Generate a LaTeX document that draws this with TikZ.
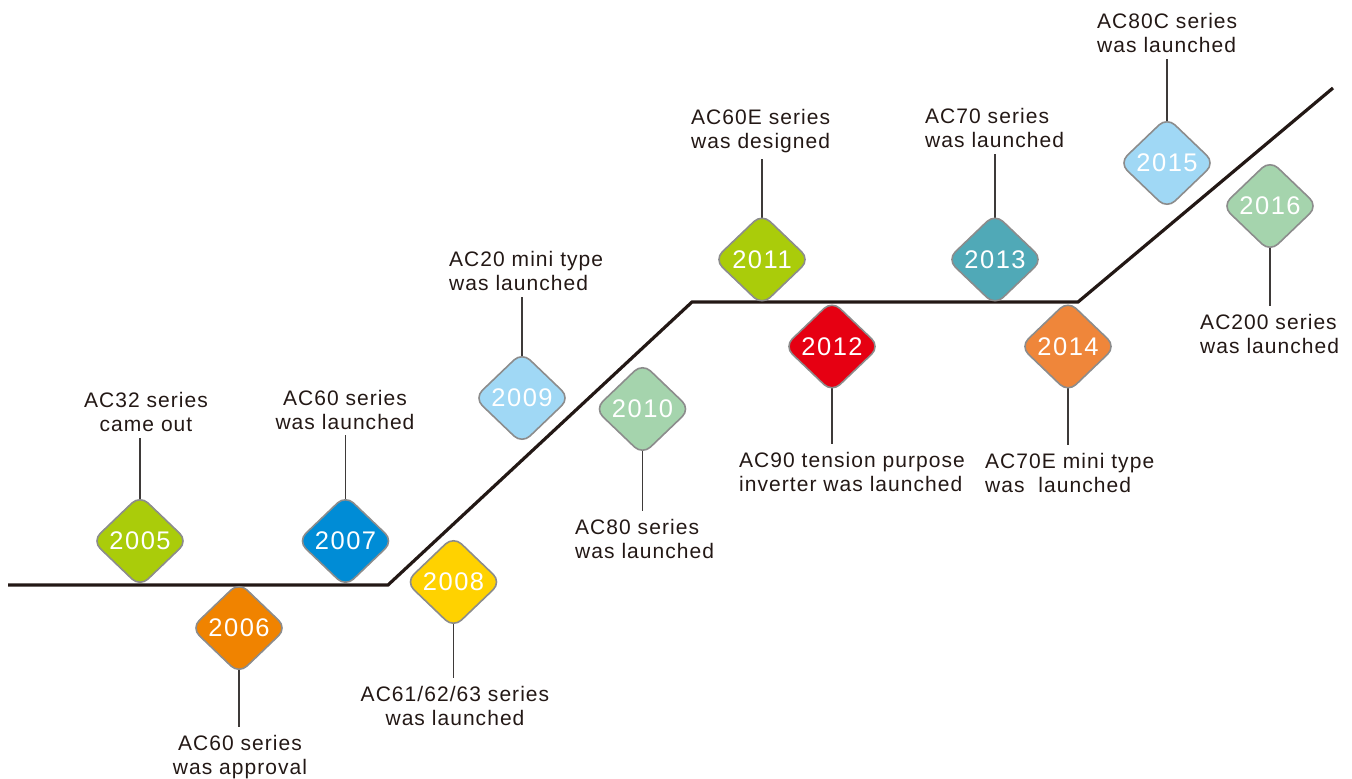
\documentclass[tikz,border=0pt]{standalone}
\usepackage{fontspec}
\setmainfont{Liberation Sans}
\newfontfamily\lblfamily[LetterSpace=5]{Liberation Sans}
\newfontfamily\yrfamily[LetterSpace=6]{Liberation Sans}
\newcommand{\lblfont}{\lblfamily\fontsize{21}{24}\selectfont}
\newcommand{\yearfont}{\yrfamily\fontsize{25.5}{28}\selectfont}
\usetikzlibrary{shapes.geometric,backgrounds,calc}
\definecolor{ink}{HTML}{231815}
\definecolor{conncol}{HTML}{3E3A39}
\definecolor{bordergray}{HTML}{8C8C8C}
\definecolor{cgreen}{HTML}{AACC0A}
\definecolor{corange}{HTML}{F08300}
\definecolor{cblue}{HTML}{008CD6}
\definecolor{cyellow}{HTML}{FFD200}
\definecolor{clblue}{HTML}{A0D8F5}
\definecolor{clgreen}{HTML}{A5D4AD}
\definecolor{cred}{HTML}{E60012}
\definecolor{cteal}{HTML}{50A9B7}
\definecolor{corange2}{HTML}{EF863A}
\begin{document}
\begin{tikzpicture}[x=1pt,y=-1pt,
  yr/.style={diamond, draw=bordergray, line width=1.6pt, rounded corners=11pt,
    minimum width=96pt, minimum height=92pt, inner sep=0pt, text=white,
    font=\yearfont, fill=#1},
  lbl/.style={font=\lblfont, text=ink, inner sep=0pt},
  conn/.style={draw=conncol, line width=1.5pt},
  mainline/.style={draw=ink, line width=3.2pt, line join=miter}]
\useasboundingbox (0,0) rectangle (1352,779);

% diamonds
\node[yr=cgreen]   (d2005) at (140,541)   {2005};
\node[yr=corange]  (d2006) at (239,628)   {2006};
\node[yr=cblue]    (d2007) at (345.5,541) {2007};
\node[yr=cyellow]  (d2008) at (453.5,582) {2008};
\node[yr=clblue]   (d2009) at (522,398)   {2009};
\node[yr=clgreen]  (d2010) at (642.5,409) {2010};
\node[yr=cgreen]   (d2011) at (762,259.5) {2011};
\node[yr=cred]     (d2012) at (832,346.5) {2012};
\node[yr=cteal]    (d2013) at (995,259.5) {2013};
\node[yr=corange2] (d2014) at (1068,346.5){2014};
\node[yr=clblue]   (d2015) at (1167,163)  {2015};
\node[yr=clgreen]  (d2016) at (1270,206)  {2016};

% labels
\node[lbl, align=center] (l2005) at (146,412) {AC32 series\\came out};
\node[lbl, align=center] (l2006) at (240,757) {AC60 series\\was approval};
\node[lbl, align=center] (l2007) at (345,409.5) {AC60 series\\was launched};
\node[lbl, align=center] (l2008) at (455,706) {AC61/62/63 series\\was launched};
\node[lbl, align=left, anchor=west] (l2009) at (449,271) {AC20 mini type\\was launched};
\node[lbl, align=left, anchor=west] (l2010) at (575,539) {AC80 series\\was launched};
\node[lbl, align=left, anchor=west] (l2011) at (691,131) {AC60E series\\was designed};
\node[lbl, align=left, anchor=west] (l2012) at (739,472) {AC90 tension purpose\\inverter was launched};
\node[lbl, align=left, anchor=west] (l2013) at (925,128) {AC70 series\\was launched};
\node[lbl, align=left, anchor=west] (l2014) at (985,473) {AC70E mini type\\was~~launched};
\node[lbl, align=left, anchor=west] (l2015) at (1097,33) {AC80C series\\was launched};
\node[lbl, align=left, anchor=west] (l2016) at (1200,334) {AC200 series\\was launched};

% main line coordinates
\coordinate (m0) at (8,585);
\coordinate (m1) at (388,585);
\coordinate (m2) at (692,302);
\coordinate (m3) at (1078,302);
\coordinate (m4) at (1333,88);

\begin{scope}[on background layer]
  \draw[mainline] (m0) -- (m1) -- (m2) -- (m3) -- (m4);
  % upper connectors
  \foreach \y in {2005,2007,2009,2011,2013,2015}
    \draw[conn] (d\y.center) -- ($(d\y.center |- l\y.south)+(0,6)$);
  % lower connectors
  \foreach \y in {2006,2008,2010,2012,2014,2016}
    \draw[conn] (d\y.center) -- ($(d\y.center |- l\y.north)+(0,-8)$);
\end{scope}
\end{tikzpicture}
\end{document}
